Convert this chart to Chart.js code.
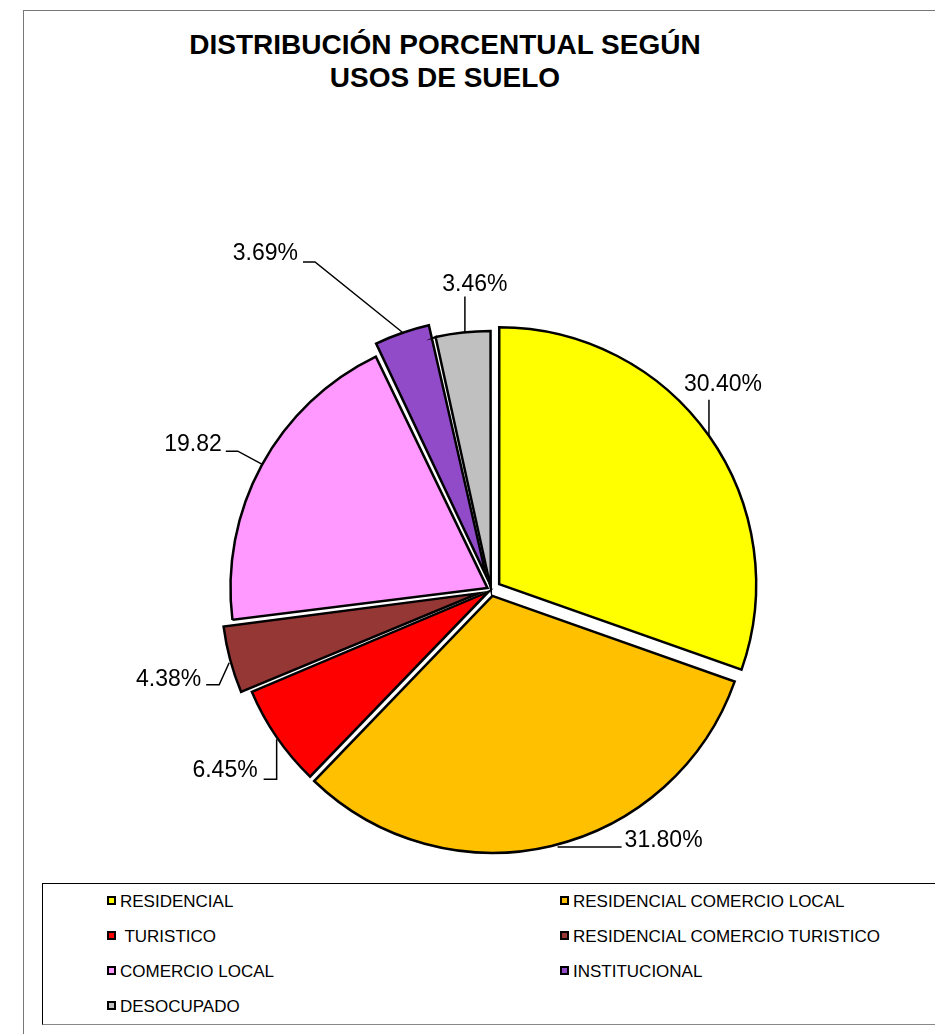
<!DOCTYPE html>
<html lang="es">
<head>
<meta charset="UTF-8">
<title>Distribución porcentual según usos de suelo</title>
<script src="https://cdn.jsdelivr.net/npm/chart.js"></script>
<style>
    body {
        margin: 0;
        width: 935px;
        height: 1034px;
        overflow: hidden;
        position: relative;
        background: #fff;
        font-family: 'Liberation Sans', Arial, sans-serif;
        color: #000;
    }

    .frame {
        position: absolute;
        left: 23px;
        top: 10px;
        width: 1000px;
        height: 1100px;
        border: 1px solid #777;
    }

    h1 {
        position: absolute;
        left: 0;
        top: 28px;
        width: 890px;
        margin: 0;
        text-align: center;
        font-size: 28px;
        line-height: 33px;
        font-weight: bold;
    }

    canvas {
        position: absolute;
        left: 0;
        top: 0;
    }

    .legend {
        position: absolute;
        left: 42px;
        top: 883px;
        width: 950px;
        height: 140px;
        border: 1px solid #000;
        border-bottom-color: #888;
        background: #fff;
    }

    .item {
        position: absolute;
        height: 20px;
        line-height: 20px;
        font-size: 17px;
        white-space: pre;
    }

    .swatch {
        display: inline-block;
        width: 5px;
        height: 5px;
        border: 2px solid #000;
        margin-right: 4px;
        vertical-align: middle;
        position: relative;
        top: -2px;
    }
</style>
</head>
<body>
    <div class="frame"></div>
    <h1>DISTRIBUCIÓN PORCENTUAL SEGÚN<br>USOS DE SUELO</h1>
    <canvas id="pieChart" width="935" height="1034"></canvas>
    <div class="legend" id="legend"></div>

<script>
    const categories = ['RESIDENCIAL', 'RESIDENCIAL COMERCIO LOCAL', ' TURISTICO',
        'RESIDENCIAL COMERCIO TURISTICO', 'COMERCIO LOCAL', 'INSTITUCIONAL', 'DESOCUPADO'];
    const shares = [30.40, 31.80, 6.45, 4.38, 19.82, 3.69, 3.46];
    const shareLabels = ['30.40%', '31.80%', '6.45%', '4.38%', '19.82', '3.69%', '3.46%'];

    const sliceColors = ['#FFFF00', '#FFC000', '#FF0000', '#953735', '#FF99FF', '#914BC8', '#C0C0C0'];
    // how far (px) each slice is pulled out of the pie
    const explode = [10, 6, 3, 13, 4, 15, 2];

    // leader lines and label spots, relative to the slice's outer edge midpoint
    const leaders = [
        { path: [[0, 0], [0, -36]], text: [14, -51], align: 'center' },
        { path: [[6, 1], [70, 1]], text: [73, -5], align: 'left' },
        { path: [[0, 2], [0, 42], [-13, 42]], text: [-19, 34], align: 'right' },
        { path: [[-1, 3], [-11, 25], [-24, 25]], text: [-29, 20], align: 'right' },
        { path: [[0, -1], [-24, -14], [-36, -14]], text: [-40, -20], align: 'right' },
        { path: [[0, -1], [-87, -71], [-99, -71]], text: [-104, -79], align: 'right' },
        { path: [[2, 0], [2, -36]], text: [12, -48], align: 'center' }
    ];

    // v4 grows the radius of small exploded slices; keep them all the same size
    const explodeFix = {
        id: 'explodeFix',
        beforeDatasetDraw(chart, args) {
            const meta = chart.getDatasetMeta(args.index);
            const R = meta.controller.outerRadius;
            meta.data.forEach(arc => {
                const off = (arc.options.offset || 0) / 4;
                const fix = 1 - Math.sin(Math.min(Math.PI, arc.circumference));
                arc.outerRadius = R - off * fix;
            });
        }
    };

    const leaderLabels = {
        id: 'leaderLabels',
        afterDatasetsDraw(chart) {
            const meta = chart.getDatasetMeta(0);
            const R = meta.controller.outerRadius;
            const ctx = chart.ctx;
            ctx.save();
            ctx.strokeStyle = '#000';
            ctx.fillStyle = '#000';
            ctx.lineWidth = 1.5;
            ctx.font = '23px "Liberation Sans", Arial, sans-serif';
            ctx.textBaseline = 'middle';
            meta.data.forEach((arc, i) => {
                const mid = (arc.startAngle + arc.endAngle) / 2;
                const off = (arc.options.offset || 0) / 4;
                const ax = arc.x + Math.cos(mid) * (off + R);
                const ay = arc.y + Math.sin(mid) * (off + R);
                const L = leaders[i];
                ctx.beginPath();
                L.path.forEach(([dx, dy], k) => {
                    if (k === 0) ctx.moveTo(ax + dx, ay + dy);
                    else ctx.lineTo(ax + dx, ay + dy);
                });
                ctx.stroke();
                ctx.textAlign = L.align;
                ctx.fillText(shareLabels[i], ax + L.text[0], ay + L.text[1]);
            });
            ctx.restore();
        }
    };

    new Chart(document.getElementById('pieChart'), {
        type: 'pie',
        data: {
            labels: categories,
            datasets: [{
                data: shares,
                backgroundColor: sliceColors,
                borderColor: '#000',
                borderWidth: 2.5,
                borderJoinStyle: 'miter',
                offset: explode.map(v => v * 4)
            }]
        },
        options: {
            responsive: false,
            animation: false,
            radius: 257,
            layout: { padding: { left: 47, right: 0, top: 300, bottom: 154 } },
            plugins: {
                legend: { display: false },
                title: { display: false },
                tooltip: { enabled: false }
            },
            events: []
        },
        plugins: [explodeFix, leaderLabels]
    });

    // legend, two columns like the original sheet
    const legend = document.getElementById('legend');
    categories.forEach((name, i) => {
        const item = document.createElement('div');
        item.className = 'item';
        item.style.left = (i % 2 ? 517 : 64) + 'px';
        item.style.top = (8 + Math.floor(i / 2) * 35) + 'px';
        const sw = document.createElement('span');
        sw.className = 'swatch';
        sw.style.background = sliceColors[i];
        item.appendChild(sw);
        item.appendChild(document.createTextNode(name));
        legend.appendChild(item);
    });
</script>
</body>
</html>
